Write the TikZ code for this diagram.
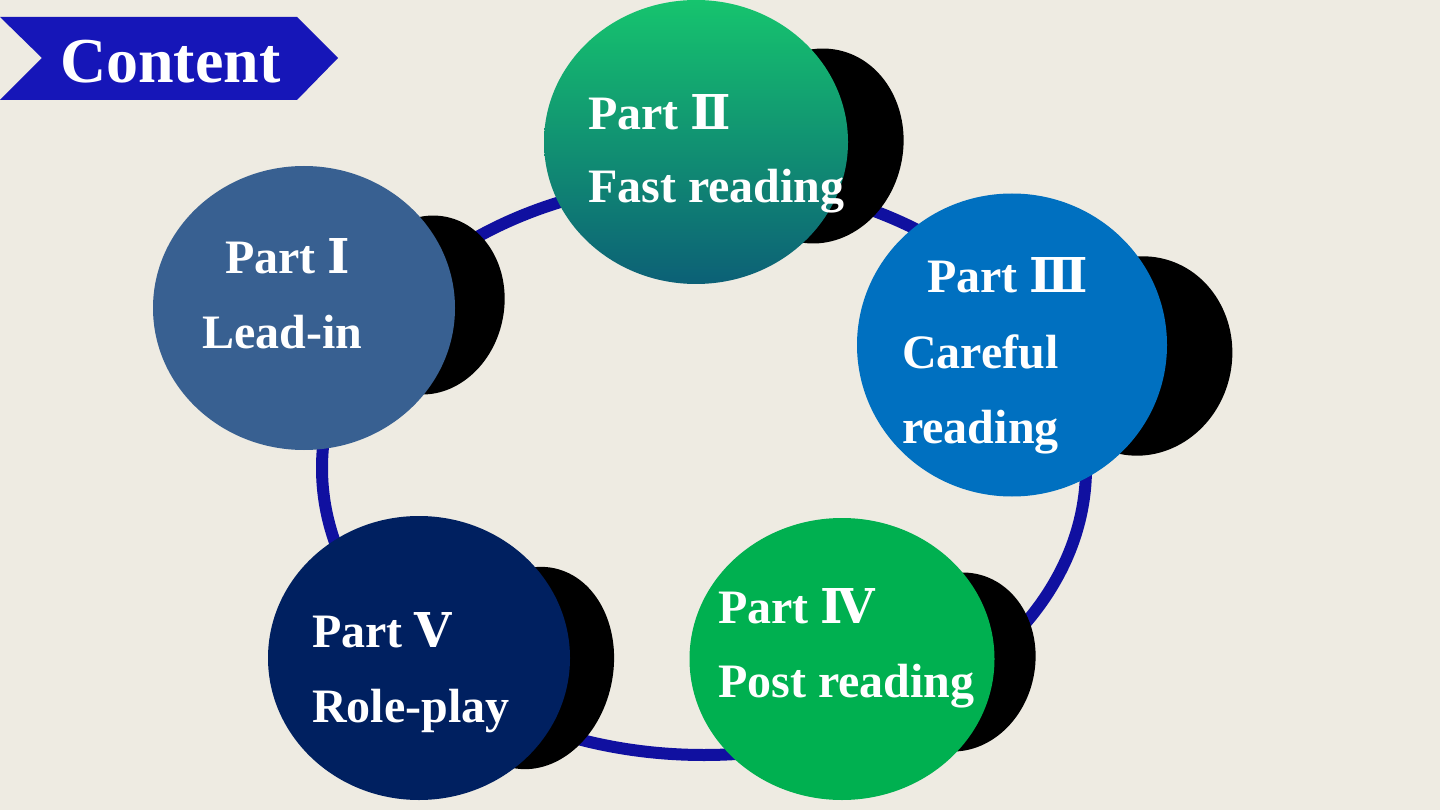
\documentclass[tikz,border=0pt]{standalone}
\usepackage{fontspec}
\setmainfont{Liberation Serif}
\newfontfamily\romfont{DejaVu Serif}
\usetikzlibrary{shapes.geometric}
\definecolor{bg}{RGB}{238,235,226}
\definecolor{banner}{RGB}{22,22,184}
\definecolor{ring}{RGB}{16,16,160}
\definecolor{partA}{RGB}{56,96,145}
\definecolor{partBtop}{RGB}{22,196,110}
\definecolor{partBbot}{RGB}{12,96,118}
\definecolor{partC}{RGB}{0,112,192}
\definecolor{partD}{RGB}{0,176,80}
\definecolor{partE}{RGB}{0,32,96}
\newcommand{\rom}[1]{{\romfont\bfseries #1}}
\tikzset{
  moon/.style={ellipse, fill=black, inner sep=0pt},
  part/.style={ellipse, inner sep=0pt, minimum width=304pt, minimum height=284pt},
  txt/.style={anchor=base west, inner sep=0pt, text=white,
    font=\fontsize{48}{56}\selectfont\bfseries},
}
\begin{document}
\begin{tikzpicture}[x=1pt, y=-1pt]
  \fill[bg] (0,0) rectangle (1440,810);
  \useasboundingbox (0,0) rectangle (1440,810);
  % ring behind the parts
  \coordinate (ctr) at (704,468);
  \draw[ring, line width=12pt] (ctr) ellipse [x radius=382pt, y radius=287pt];
  % shadows
  \node[moon, minimum width=152pt, minimum height=180pt, rotate=-12] (s1) at (428,305) {};
  \node[moon, minimum width=170pt, minimum height=196pt, rotate=-12] (s2) at (818,146) {};
  \node[moon, minimum width=184pt, minimum height=200pt, rotate=-12] (s3) at (1140,356) {};
  \node[moon, minimum width=154pt, minimum height=180pt, rotate=-12] (s4) at (958,662) {};
  \node[moon, minimum width=160pt, minimum height=204pt, rotate=-12] (s5) at (533,668) {};
  % parts
  \node[part, fill=partA, minimum width=302pt] (p1) at (304,308) {};
  \node[part, top color=partBtop, bottom color=partBbot] (p2) at (696,142) {};
  \node[part, fill=partC, minimum width=310pt, minimum height=303pt] (p3) at (1012,345) {};
  \node[part, fill=partD, minimum width=305pt, minimum height=282pt] (p4) at (842,659) {};
  \node[part, fill=partE, minimum width=302pt] (p5) at (419,658) {};
  % texts
  \node[txt] (t1a) at (225,274) {Part \rom{Ⅰ}};
  \node[txt] (t1b) at (202,348) {Lead-in};
  \node[txt] (t2a) at (588,130) {Part \rom{Ⅱ}};
  \node[txt] (t2b) at (588,203) {Fast reading};
  \node[txt] (t3a) at (927,293) {Part \rom{Ⅲ}};
  \node[txt] (t3b) at (902,368) {Careful};
  \node[txt] (t3c) at (902,443) {reading};
  \node[txt] (t4a) at (718,623) {Part \rom{Ⅳ}};
  \node[txt] (t4b) at (718,697) {Post reading};
  \node[txt] (t5a) at (312,647) {Part \rom{Ⅴ}};
  \node[txt] (t5b) at (312,722) {Role-play};
  % title banner
  \fill[banner] (0,17) -- (297,17) -- (338,58) -- (297,100) -- (0,100) -- (42,58) -- cycle;
  \node[txt, font=\fontsize{64}{70}\selectfont\bfseries] (title) at (60,83) {Content};
\end{tikzpicture}
\end{document}
